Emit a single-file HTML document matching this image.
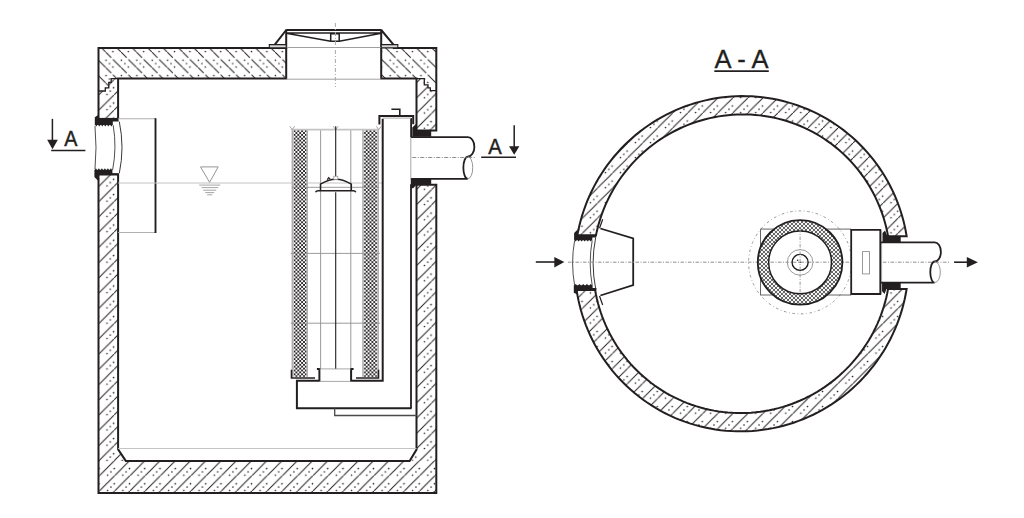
<!DOCTYPE html>
<html><head><meta charset="utf-8"><style>
html,body{margin:0;padding:0;background:#fff;}
svg{display:block;}
text{font-family:"Liberation Sans",sans-serif;fill:#231f20;stroke:#231f20;stroke-width:0.45;}
</style></head><body>
<svg width="1024" height="518" viewBox="0 0 1024 518">
<defs>
<pattern id="hb" patternUnits="userSpaceOnUse" x="167.25" y="52.05" width="15.4" height="15.4"><path d="M-15.40,-15.40 L-9.75,-9.75 M-8.15,-8.15 L5.65,5.65 M7.25,7.25 L21.05,21.05 M22.65,22.65 L30.80,30.80 " stroke="#231f20" stroke-width="1.0"/><circle cx="3.85" cy="11.55" r="0.8" fill="#231f20"/><circle cx="7.25" cy="-0.45" r="0.8" fill="#231f20"/><circle cx="7.25" cy="14.95" r="0.8" fill="#231f20"/><circle cx="0.45" cy="8.15" r="0.8" fill="#231f20"/><circle cx="15.85" cy="8.15" r="0.8" fill="#231f20"/></pattern>
<pattern id="hbR" patternUnits="userSpaceOnUse" x="174.15" y="52.05" width="15.4" height="15.4"><path d="M-15.40,-15.40 L-9.75,-9.75 M-8.15,-8.15 L5.65,5.65 M7.25,7.25 L21.05,21.05 M22.65,22.65 L30.80,30.80 " stroke="#231f20" stroke-width="1.0"/><circle cx="3.85" cy="11.55" r="0.8" fill="#231f20"/><circle cx="7.25" cy="-0.45" r="0.8" fill="#231f20"/><circle cx="7.25" cy="14.95" r="0.8" fill="#231f20"/><circle cx="0.45" cy="8.15" r="0.8" fill="#231f20"/><circle cx="15.85" cy="8.15" r="0.8" fill="#231f20"/></pattern>
<pattern id="hfL" patternUnits="userSpaceOnUse" x="98.86" y="277.86" width="15.25" height="15.25"><path d="M-15.25,30.50 L-12.85,28.10 M-12.85,28.10 L2.40,12.85 M2.40,12.85 L17.65,-2.40 M17.65,-2.40 L30.50,-15.25 " stroke="#231f20" stroke-width="1.0"/><circle cx="11.44" cy="11.44" r="0.8" fill="#231f20"/><circle cx="-0.51" cy="8.14" r="0.8" fill="#231f20"/><circle cx="14.74" cy="8.14" r="0.8" fill="#231f20"/><circle cx="8.14" cy="-0.51" r="0.8" fill="#231f20"/><circle cx="8.14" cy="14.74" r="0.8" fill="#231f20"/></pattern>
<pattern id="hfB" patternUnits="userSpaceOnUse" x="190.96" y="460.36" width="15.25" height="15.25"><path d="M-15.25,30.50 L-14.35,29.60 M-14.35,29.60 L0.90,14.35 M0.90,14.35 L16.15,-0.90 M16.15,-0.90 L30.50,-15.25 " stroke="#231f20" stroke-width="1.0"/><circle cx="11.44" cy="11.44" r="0.8" fill="#231f20"/><circle cx="-0.51" cy="8.14" r="0.8" fill="#231f20"/><circle cx="14.74" cy="8.14" r="0.8" fill="#231f20"/><circle cx="8.14" cy="-0.51" r="0.8" fill="#231f20"/><circle cx="8.14" cy="14.74" r="0.8" fill="#231f20"/></pattern>
<pattern id="hfR" patternUnits="userSpaceOnUse" x="416.26" y="296.46" width="15.25" height="15.25"><path d="M-15.25,30.50 L-12.25,27.50 M-12.25,27.50 L3.00,12.25 M3.00,12.25 L18.25,-3.00 M18.25,-3.00 L30.50,-15.25 " stroke="#231f20" stroke-width="1.0"/><circle cx="11.44" cy="11.44" r="0.8" fill="#231f20"/><circle cx="-0.51" cy="8.14" r="0.8" fill="#231f20"/><circle cx="14.74" cy="8.14" r="0.8" fill="#231f20"/><circle cx="8.14" cy="-0.51" r="0.8" fill="#231f20"/><circle cx="8.14" cy="14.74" r="0.8" fill="#231f20"/></pattern>
<pattern id="hfC" patternUnits="userSpaceOnUse" x="868.03" y="323.43" width="15.03" height="15.03"><path d="M-15.03,30.06 L-12.63,27.66 M-12.63,27.66 L2.40,12.63 M2.40,12.63 L17.43,-2.40 M17.43,-2.40 L30.06,-15.03 " stroke="#231f20" stroke-width="1.0"/><circle cx="11.27" cy="11.27" r="0.8" fill="#231f20"/><circle cx="-0.46" cy="7.97" r="0.8" fill="#231f20"/><circle cx="14.57" cy="7.97" r="0.8" fill="#231f20"/><circle cx="7.97" cy="-0.46" r="0.8" fill="#231f20"/><circle cx="7.97" cy="14.57" r="0.8" fill="#231f20"/></pattern>
<pattern id="xh" patternUnits="userSpaceOnUse" width="4" height="4">
<rect width="4" height="4" fill="#f4f4f4"/>
<path d="M-0.2,-0.2 L4.2,4.2 M4.2,-0.2 L-0.2,4.2" stroke="#2a2a2a" stroke-width="0.7"/>
</pattern>
<pattern id="xh2" patternUnits="userSpaceOnUse" width="3.8" height="3.8">
<rect width="3.8" height="3.8" fill="#fff"/>
<path d="M-0.2,-0.2 L4,4 M4,-0.2 L-0.2,4" stroke="#231f20" stroke-width="0.9"/>
</pattern>
</defs>
<rect width="1024" height="518" fill="#fff"/>
<path d="M98.5,47.9 L286.2,47.9 L286.2,78.6 L111.2,78.6 L111.2,82.3 L108.8,82.3 L108.8,87.8 L105.3,87.8 L105.3,91 L98.5,91 Z" fill="url(#hb)"/>
<path d="M381.2,47.9 L436.3,47.9 L436.3,90.7 L430.3,90.7 L430.3,87.8 L428,87.8 L428,84.9 L424.3,84.9 L424.3,78.6 L381.2,78.6 Z" fill="url(#hbR)"/>
<path d="M98.5,91 L105.3,91 L105.3,87.8 L108.8,87.8 L108.8,82.3 L111.2,82.3 L111.2,78.6 L118.1,78.6 L118.1,118.9 L98.5,118.9 Z" fill="url(#hfL)"/>
<path d="M98.5,174.6 L118.1,174.6 L118.1,449.4 L125.8,460.9 L98.5,460.9 Z" fill="url(#hfL)"/>
<path d="M98.5,460.9 L436.3,460.9 L436.3,493.1 L98.5,493.1 Z" fill="url(#hfB)"/>
<path d="M416.5,78.6 L424.3,78.6 L424.3,84.9 L428,84.9 L428,87.8 L430.3,87.8 L430.3,90.7 L436.3,90.7 L436.3,130.6 L416.5,130.6 Z" fill="url(#hfR)"/>
<path d="M416.5,184.8 L436.3,184.8 L436.3,460.9 L409.6,460.9 L416.5,449.6 Z" fill="url(#hfR)"/>
<g fill="none" stroke="#231f20" stroke-width="2" stroke-linejoin="miter">
<path d="M98.5,118.9 L98.5,47.9 L286.2,47.9 L286.2,78.6 L118.1,78.6 L118.1,118.9"/>
<path d="M381.2,29.5 L381.2,78.6 L416.5,78.6 L416.5,130.6 L436.3,130.6 L436.3,47.9 L393,47.9"/>
<path d="M286.2,29.5 L286.2,47.9 L274,47.9"/>
<path d="M98.5,174.6 L98.5,493.1 L436.3,493.1 L436.3,184.8 L416.5,184.8 L416.5,449.6 L409.6,460.9 L125.8,460.9 L118.1,449.4 L118.1,174.6 Z"/>
<path d="M98.5,118.9 L118.1,118.9"/>
</g>
<g fill="none" stroke="#231f20" stroke-width="1.3">
<path d="M118.1,78.6 L111.2,78.6 L111.2,82.3 L108.8,82.3 L108.8,87.8 L105.3,87.8 L105.3,91 L98.5,91"/>
<path d="M416.5,78.6 L424.3,78.6 L424.3,84.9 L428,84.9 L428,87.8 L430.3,87.8 L430.3,90.7 L436.3,90.7"/>
</g>
<path d="M286.2,47.5 L381.2,47.5 M286.2,79.2 L381.2,79.2" stroke="#a0a0a0" stroke-width="1" fill="none"/>
<path d="M269.3,44.6 L286.2,44.6 L286.2,47.9 L269.3,47.9 Z M381.2,44.6 L397.8,44.6 L397.8,47.9 L381.2,47.9 Z" fill="#d9d9d9" stroke="#231f20" stroke-width="1.1"/>
<path d="M286.2,30.0 L381.2,30.0 M274.8,44.6 L286.2,30.0 M381.2,30.0 L393.5,44.6" stroke="#231f20" stroke-width="2" fill="none"/>
<path d="M286.2,33.1 L381.2,33.1 M286.2,33.3 L330.7,41.3 L339.2,41.3 L381.2,33.3 M330.7,41.3 L330.7,33.8 L339.2,33.8 L339.2,41.3" stroke="#231f20" stroke-width="1.5" fill="none"/>
<path d="M335.4,23 L335.4,87" stroke="#a8a8a8" stroke-width="1" stroke-dasharray="4,2,1,2" fill="none"/>
<path d="M98.1,115 L94.8,117.3 L94.8,125 L95.25,125 L96.30,126.5 L97.35,125 L98.25,125 L99.30,126.5 L100.35,125 L101.25,125 L102.30,126.5 L103.35,125 L104.25,125 L105.30,126.5 L106.35,125 L107.25,125 L108.30,126.5 L109.35,125 L110.25,125 L111.30,126.5 L112.35,125 L112.8,125 L112.8,121.6 L118.6,121.6 L118.6,118.9 L98.1,118.9 Z" fill="#231f20"/>
<path d="M94.4,169.8 L94.85,169.8 L95.90,168.3 L96.95,169.8 L97.85,169.8 L98.90,168.3 L99.95,169.8 L100.85,169.8 L101.90,168.3 L102.95,169.8 L103.85,169.8 L104.90,168.3 L105.95,169.8 L106.85,169.8 L107.90,168.3 L108.95,169.8 L109.85,169.8 L110.90,168.3 L111.95,169.8 L112.4,169.8 L112.4,173.3 L118.6,173.3 L118.6,175 L98.3,175 L98.3,181 L94.4,177.1 Z" fill="#231f20"/>
<path d="M95,126 Q97,147.6 95,169" stroke="#231f20" stroke-width="0.8" fill="none"/>
<path d="M113.2,125.2 Q117,147.6 112.6,170" stroke="#231f20" stroke-width="0.8" fill="none"/>
<path d="M119.3,121.6 Q124.7,147.6 119.3,173.3" stroke="#231f20" stroke-width="0.9" fill="none"/>
<path d="M118.1,118.7 L155.5,118.7 M118.1,232.5 L155.5,232.5" stroke="#b0b0b0" stroke-width="1.1" fill="none"/>
<path d="M155.5,118.2 L155.5,233" stroke="#231f20" stroke-width="1.9" fill="none"/>
<path d="M118.1,183 L382,183" stroke="#c4c4c4" stroke-width="1.2" fill="none"/>
<path d="M200.5,166.9 L218.2,166.9 L209.6,182.3 Z" stroke="#8a8a8a" stroke-width="0.9" fill="none"/>
<path d="M199.2,185.1 L220.2,185.1 M201.7,187.6 L218.2,187.6 M203.2,190.2 L216.2,190.2 M205.2,192.6 L214.2,192.6 M207.2,194.8 L212.2,194.8" stroke="#9a9a9a" stroke-width="0.9" fill="none"/>
<path d="M118.1,448.5 L416.5,448.5" stroke="#c4c4c4" stroke-width="1" fill="none"/>
<rect x="291.8" y="129.6" width="16" height="247.2" fill="#cfcfcf"/>
<rect x="293.8" y="129.6" width="12.6" height="247.2" fill="url(#xh2)"/>
<rect x="362.5" y="129.6" width="16.2" height="247.2" fill="#cfcfcf"/>
<rect x="364.2" y="129.6" width="12.6" height="247.2" fill="url(#xh2)"/>
<path d="M292.2,129.6 L292.2,376.8 M307.2,129.6 L307.2,376.8 M362.9,129.6 L362.9,376.8 M378.2,129.6 L378.2,376.8" stroke="#9a9a9a" stroke-width="0.9" fill="none"/>
<path d="M320.6,129.6 L320.6,368.9 M350.8,129.6 L350.8,368.9 M290.7,253.4 L380,253.4 M290.7,323.2 L380,323.2 M291.8,187.3 L379.2,187.3" stroke="#909090" stroke-width="0.9" fill="none"/>
<path d="M291.8,129.6 L378.8,129.6" stroke="#c4c4c4" stroke-width="1.6" fill="none"/>
<path d="M289.7,126.2 L292.2,129.7 L294.7,126.2 M333.2,126.2 L335.7,129.7 L338.2,126.2 M376.2,126.2 L378.8,129.7 L381.2,126.2" stroke="#909090" stroke-width="0.8" fill="none"/>
<path d="M335.7,126.2 L335.7,177.2 M335.7,192.2 L335.7,368.9" stroke="#231f20" stroke-width="1.1" fill="none"/>
<path d="M320.5,190.7 L320.5,184.2 Q335.9,174.2 351.3,184.2 L351.3,190.7" stroke="#231f20" stroke-width="1.5" fill="none"/>
<path d="M315.5,192.2 Q316.2,190.7 318.2,190.7 L353.2,190.7 Q355.2,190.7 355.8,192.2" stroke="#231f20" stroke-width="1.5" fill="none"/>
<rect x="333.8" y="176.2" width="4" height="3.2" fill="#fff" stroke="#909090" stroke-width="0.7"/>
<path d="M327.2,179.7 L328.7,177.7 L330.2,179.2" stroke="#231f20" stroke-width="1.2" fill="none"/>
<path d="M291.5,369.8 L291.5,378 L315,378 M378.5,369.8 L378.5,378 L356,378" stroke="#231f20" stroke-width="1.6" fill="none"/>
<path d="M316.9,368.9 L319.4,368.9 L319.4,380.8 L296.9,380.8 L296.9,408.2 L411.6,408.2 M353.6,368.9 L351.1,368.9 L351.1,380.8 L382.7,380.8 L382.7,118.7" stroke="#231f20" stroke-width="2" fill="none"/>
<path d="M319.4,368.9 L351.1,368.9 M319.4,381.4 L351.1,381.4" stroke="#909090" stroke-width="0.8" fill="none"/>
<path d="M411.1,118.1 L411.1,137 M411.0,184.2 L411.0,408.2" stroke="#231f20" stroke-width="1.8" fill="none"/>
<path d="M382.7,118.1 L411.2,118.1" stroke="#b0b0b0" stroke-width="1.1" fill="none"/>
<path d="M379.4,124.5 L379.4,116.0 L413.2,116.0 L413.2,124.3" stroke="#231f20" stroke-width="2" fill="none"/>
<path d="M391.4,109.2 L399.8,109.2 L399.8,116" stroke="#231f20" stroke-width="1.6" fill="none"/>
<path d="M334.7,408.2 L334.7,415.5 L416.5,415.5" stroke="#4a4a4a" stroke-width="1.3" fill="none"/>
<path d="M412.3,127.5 L416.5,123.5 L416.5,130.6 L431.2,130.6 L431.2,136.7 L412.3,136.7 Z" fill="#231f20"/>
<path d="M410.8,179 L431.2,179 L431.2,184.8 L416.5,184.8 L413.2,188.2 L410.8,188.2 Z" fill="#231f20"/>
<path d="M410.8,137.2 L467.8,137.2 A6.6,9.7 0 0 1 467.8,156.6 A4.4,11 0 0 0 467.8,178.8 L410.8,178.8" stroke="#231f20" stroke-width="1.8" fill="none"/>
<path d="M467.8,156.6 A4.9,11 0 0 1 467.8,178.8" stroke="#8a8a8a" stroke-width="0.9" fill="none"/>
<path d="M410.8,137.2 L410.8,178.8" stroke="#909090" stroke-width="0.8" fill="none"/>
<path d="M412.2,157.5 L476,157.5" stroke="#909090" stroke-width="1" stroke-dasharray="4,1.5,1,1.5" fill="none"/>
<path d="M52.4,118.9 L52.4,142.2" stroke="#231f20" stroke-width="1.5"/>
<path d="M47.2,139.7 L57.8,139.7 L52.5,149.2 Z" fill="#231f20"/>
<path d="M51.2,150.5 L85.4,150.5" stroke="#231f20" stroke-width="1.6"/>
<text transform="translate(64.3,145.6) scale(0.92,1)" x="0" y="0" font-size="21.5">A</text>
<path d="M514.2,125.2 L514.2,148.2" stroke="#231f20" stroke-width="1.5"/>
<path d="M509,146.2 L519.4,146.2 L514.2,154.8 Z" fill="#231f20"/>
<path d="M481.2,157.2 L516,157.2" stroke="#231f20" stroke-width="1.6"/>
<text transform="translate(488.2,153.7) scale(0.92,1)" x="0" y="0" font-size="22">A</text>
<path d="M577.28,235.60 L578.26,230.49 L579.40,225.42 L580.70,220.39 L582.15,215.40 L583.75,210.46 L585.50,205.57 L587.40,200.74 L589.45,195.97 L591.64,191.27 L593.97,186.64 L596.45,182.08 L599.06,177.60 L601.81,173.20 L604.69,168.89 L607.70,164.67 L610.84,160.54 L614.11,156.51 L617.49,152.59 L621.00,148.77 L624.62,145.05 L628.35,141.46 L632.19,137.97 L636.14,134.61 L640.19,131.37 L644.34,128.25 L648.58,125.26 L652.91,122.40 L657.33,119.68 L661.83,117.10 L666.41,114.65 L671.07,112.35 L675.79,110.19 L680.59,108.17 L685.44,106.31 L690.35,104.60 L695.31,103.04 L700.32,101.63 L705.37,100.38 L710.46,99.29 L715.59,98.35 L720.74,97.58 L725.92,96.97 L731.11,96.52 L736.32,96.23 L741.53,96.10 L746.75,96.14 L751.97,96.35 L757.18,96.71 L762.38,97.24 L767.56,97.94 L772.71,98.80 L777.84,99.82 L782.94,101.00 L787.99,102.34 L793.01,103.84 L797.97,105.50 L802.88,107.32 L807.74,109.29 L812.52,111.42 L817.24,113.69 L821.89,116.12 L826.46,118.69 L830.95,121.41 L835.34,124.26 L839.65,127.26 L843.86,130.39 L847.97,133.66 L851.97,137.05 L855.87,140.57 L859.65,144.21 L863.31,147.97 L866.85,151.84 L870.27,155.83 L873.56,159.92 L876.72,164.11 L879.75,168.41 L882.64,172.79 L885.39,177.27 L888.00,181.83 L890.46,186.46 L892.77,191.18 L894.93,195.97 L896.95,200.82 L898.80,205.73 L900.51,210.70 L902.05,215.72 L903.44,220.78 L904.67,225.89 L905.73,231.03 L906.64,236.20 L888.08,236.20 L887.20,231.67 L886.18,227.18 L885.02,222.71 L883.72,218.29 L882.28,213.91 L880.71,209.57 L879.01,205.28 L877.17,201.05 L875.21,196.88 L873.11,192.77 L870.89,188.73 L868.54,184.76 L866.07,180.87 L863.48,177.05 L860.77,173.32 L857.95,169.67 L855.01,166.12 L851.97,162.66 L848.82,159.29 L845.56,156.03 L842.21,152.87 L838.76,149.81 L835.21,146.87 L831.57,144.04 L827.85,141.32 L824.05,138.73 L820.17,136.25 L816.21,133.90 L812.18,131.67 L808.09,129.57 L803.93,127.61 L799.71,125.77 L795.44,124.06 L791.12,122.49 L786.75,121.06 L782.35,119.76 L777.90,118.60 L773.43,117.59 L768.92,116.71 L764.39,115.97 L759.85,115.37 L755.28,114.92 L750.71,114.60 L746.13,114.43 L741.55,114.40 L736.98,114.52 L732.41,114.77 L727.85,115.16 L723.31,115.70 L718.79,116.37 L714.29,117.18 L709.82,118.13 L705.39,119.22 L700.99,120.44 L696.63,121.79 L692.32,123.28 L688.06,124.89 L683.85,126.64 L679.69,128.51 L675.60,130.51 L671.57,132.63 L667.60,134.87 L663.71,137.23 L659.89,139.70 L656.15,142.29 L652.49,144.99 L648.91,147.80 L645.42,150.72 L642.02,153.74 L638.71,156.86 L635.50,160.08 L632.39,163.39 L629.38,166.79 L626.47,170.29 L623.67,173.87 L620.98,177.53 L618.40,181.27 L615.93,185.09 L613.58,188.99 L611.35,192.95 L609.23,196.98 L607.24,201.07 L605.37,205.21 L603.63,209.42 L602.02,213.68 L600.53,217.98 L599.17,222.33 L597.95,226.72 L596.86,231.14 L595.90,235.60 Z" fill="url(#hfC)" stroke="#231f20" stroke-width="2" stroke-linejoin="miter"/>
<path d="M576.59,290.00 L577.45,295.16 L578.47,300.28 L579.65,305.38 L580.99,310.44 L582.49,315.46 L584.15,320.43 L585.97,325.35 L587.93,330.21 L590.06,335.01 L592.33,339.74 L594.75,344.40 L597.32,348.98 L600.03,353.48 L602.89,357.89 L605.88,362.22 L609.02,366.45 L612.28,370.57 L615.68,374.60 L619.21,378.51 L622.85,382.31 L626.62,386.00 L630.51,389.56 L634.51,393.00 L638.61,396.32 L642.83,399.50 L647.14,402.54 L651.55,405.45 L656.05,408.21 L660.63,410.83 L665.30,413.30 L670.05,415.63 L674.86,417.80 L679.75,419.81 L684.70,421.67 L689.70,423.37 L694.76,424.91 L699.86,426.28 L705.01,427.50 L710.19,428.54 L715.40,429.43 L720.64,430.14 L725.89,430.69 L731.17,431.08 L736.45,431.29 L741.73,431.34 L747.01,431.21 L752.29,430.92 L757.55,430.47 L762.80,429.85 L768.02,429.06 L773.21,428.11 L778.37,426.99 L783.49,425.71 L788.57,424.27 L793.60,422.68 L798.57,420.92 L803.49,419.01 L808.34,416.95 L813.13,414.73 L817.84,412.37 L822.47,409.86 L827.03,407.21 L831.49,404.42 L835.87,401.49 L840.15,398.43 L844.34,395.23 L848.42,391.91 L852.39,388.46 L856.26,384.89 L860.01,381.20 L863.64,377.40 L867.16,373.48 L870.55,369.46 L873.81,365.34 L876.94,361.12 L879.94,356.80 L882.80,352.40 L885.53,347.91 L888.11,343.33 L890.56,338.68 L892.85,333.95 L895.00,329.16 L897.00,324.30 L898.84,319.38 L900.53,314.41 L902.07,309.39 L903.45,304.32 L904.67,299.22 L905.74,294.07 L906.64,288.90 L888.08,288.90 L887.20,293.43 L886.19,297.93 L885.03,302.39 L883.74,306.82 L882.32,311.21 L880.76,315.55 L879.07,319.84 L877.25,324.08 L875.30,328.26 L873.22,332.38 L871.02,336.43 L868.69,340.42 L866.24,344.33 L863.68,348.17 L861.00,351.93 L858.20,355.60 L855.29,359.19 L852.28,362.69 L849.16,366.09 L845.93,369.40 L842.60,372.61 L839.18,375.72 L835.66,378.72 L832.05,381.61 L828.36,384.39 L824.57,387.05 L820.71,389.60 L816.77,392.03 L812.76,394.33 L808.67,396.51 L804.52,398.57 L800.31,400.49 L796.04,402.29 L791.71,403.95 L787.33,405.47 L782.91,406.87 L778.44,408.12 L773.94,409.23 L769.41,410.20 L764.84,411.04 L760.25,411.72 L755.64,412.27 L751.02,412.67 L746.38,412.92 L741.74,413.04 L737.09,413.00 L732.45,412.82 L727.82,412.49 L723.20,412.02 L718.59,411.40 L714.01,410.64 L709.45,409.73 L704.93,408.69 L700.43,407.49 L695.98,406.16 L691.58,404.69 L687.22,403.08 L682.92,401.34 L678.67,399.45 L674.49,397.44 L670.37,395.30 L666.32,393.02 L662.35,390.62 L658.45,388.10 L654.64,385.46 L650.91,382.70 L647.28,379.82 L643.74,376.83 L640.29,373.73 L636.95,370.53 L633.70,367.22 L630.57,363.81 L627.54,360.31 L624.63,356.72 L621.83,353.04 L619.15,349.27 L616.59,345.43 L614.16,341.51 L611.85,337.51 L609.66,333.45 L607.60,329.32 L605.68,325.14 L603.88,320.90 L602.22,316.60 L600.69,312.26 L599.30,307.88 L598.05,303.46 L596.93,299.00 L595.96,294.51 L595.12,290.00 Z" fill="url(#hfC)" stroke="#231f20" stroke-width="2" stroke-linejoin="miter"/>
<path d="M577.6,229.5 L574.1,233 L574.1,240.2 L574.56,240.2 L575.62,241.39999999999998 L576.68,240.2 L577.59,240.2 L578.65,241.39999999999998 L579.71,240.2 L580.62,240.2 L581.68,241.39999999999998 L582.75,240.2 L583.66,240.2 L584.72,241.39999999999998 L585.78,240.2 L586.69,240.2 L587.75,241.39999999999998 L588.81,240.2 L589.72,240.2 L590.78,241.39999999999998 L591.85,240.2 L592.3,240.2 L592.3,237.4 L596.1,237.4 L596.1,234.6 L577.6,234.6 Z" fill="#231f20"/>
<path d="M573.8,285.3 L574.36,285.3 L575.68,284.0 L577.00,285.3 L578.12,285.3 L579.44,284.0 L580.76,285.3 L581.88,285.3 L583.20,284.0 L584.52,285.3 L585.64,285.3 L586.96,284.0 L588.28,285.3 L589.40,285.3 L590.72,284.0 L592.04,285.3 L592.6,285.3 L592.6,288 L596.4,288 L596.4,290.5 L577.6,290.5 L577.6,294.5 L573.8,292.8 Z" fill="#231f20"/>
<path d="M574.6,240.5 Q570.6,263 574.6,285.3 M592.2,240.5 Q588.2,263 592.2,285.3" stroke="#231f20" stroke-width="0.8" fill="none"/>
<path d="M595.7,237.4 Q590.5,263 595.7,289" stroke="#231f20" stroke-width="0.9" fill="none"/>
<path d="M600.4,228.5 L633.2,238.5 L633.2,285 L600.4,295.5" stroke="#231f20" stroke-width="1.8" fill="none"/>
<path d="M599.5,228.2 L602.7,219.3 M599.5,296 L602.7,305" stroke="#231f20" stroke-width="1.2" fill="none"/>
<path d="M535.8,262 L556,262" stroke="#231f20" stroke-width="1.6"/>
<path d="M554.3,256.9 L564.3,262 L554.3,267.4 Z" fill="#231f20"/>
<path d="M568,262.2 L949,262.2" stroke="#909090" stroke-width="1" stroke-dasharray="3.5,1.5,1,1.5" fill="none"/>
<circle cx="800.1" cy="262.4" r="51.5" fill="none" stroke="#8c8c8c" stroke-width="0.9" stroke-dasharray="2.6,2.6,0.8,2.6"/>
<path d="M760.5,229.1 L851.2,229.1 M760.5,295 L851.2,295 M760.5,229.1 L760.5,295" stroke="#555" stroke-width="0.9" fill="none"/>
<circle cx="800.1" cy="262.4" r="37" fill="none" stroke="url(#xh)" stroke-width="11"/>
<circle cx="800.1" cy="262.4" r="42.3" fill="none" stroke="#231f20" stroke-width="1.8"/>
<circle cx="800.1" cy="262.4" r="31.4" fill="none" stroke="#231f20" stroke-width="1.5"/>
<circle cx="800.1" cy="262.4" r="12.8" fill="none" stroke="#909090" stroke-width="0.9"/>
<circle cx="800.1" cy="262.4" r="8" fill="none" stroke="#231f20" stroke-width="1.4"/>
<path d="M800.1,229 L800.1,295" stroke="#909090" stroke-width="0.9" stroke-dasharray="3.5,1.5,1,1.5" fill="none"/>
<circle cx="797.7" cy="260.2" r="0.8" fill="#231f20"/><circle cx="800.1" cy="262.4" r="0.6" fill="#231f20"/>
<path d="M851.2,229.9 L880.3,229.9 L880.3,294 L851.2,294 Z" fill="#fff" stroke="#231f20" stroke-width="1.8"/>
<rect x="862.5" y="251.6" width="7" height="22.3" fill="none" stroke="#909090" stroke-width="0.9"/>
<path d="M882.5,233 L885,230.5 L887.5,236.2 L900.7,236.2 L900.7,242.3 L882.5,242.3 Z" fill="#231f20"/>
<path d="M881.9,282.8 L900.7,282.8 L900.7,289 L886.5,289 L884.5,294 L881.9,291 Z" fill="#231f20"/>
<path d="M881.6,230 L881.6,294" stroke="#909090" stroke-width="0.8" fill="none"/>
<path d="M880.3,242.3 L934.6,242.3 A6.3,9.6 0 0 1 934.6,261.5 A4.3,10.5 0 0 0 934.6,282.6 L880.3,282.6" stroke="#231f20" stroke-width="1.8" fill="none"/>
<path d="M934.6,261.5 A5.7,10.5 0 0 1 934.6,282.6" stroke="#8a8a8a" stroke-width="0.9" fill="none"/>
<path d="M954.1,262.2 L968.2,262.2" stroke="#231f20" stroke-width="1.6"/>
<path d="M966.8,257 L977.9,262.2 L966.8,267.4 Z" fill="#231f20"/>
<text transform="translate(714.6,68.1) scale(0.965,1)" x="0" y="0" font-size="26.5" style="stroke-width:0.3">A - A</text>
<path d="M714.3,71.1 L768.8,71.1" stroke="#231f20" stroke-width="1.9"/>
</svg></body></html>
